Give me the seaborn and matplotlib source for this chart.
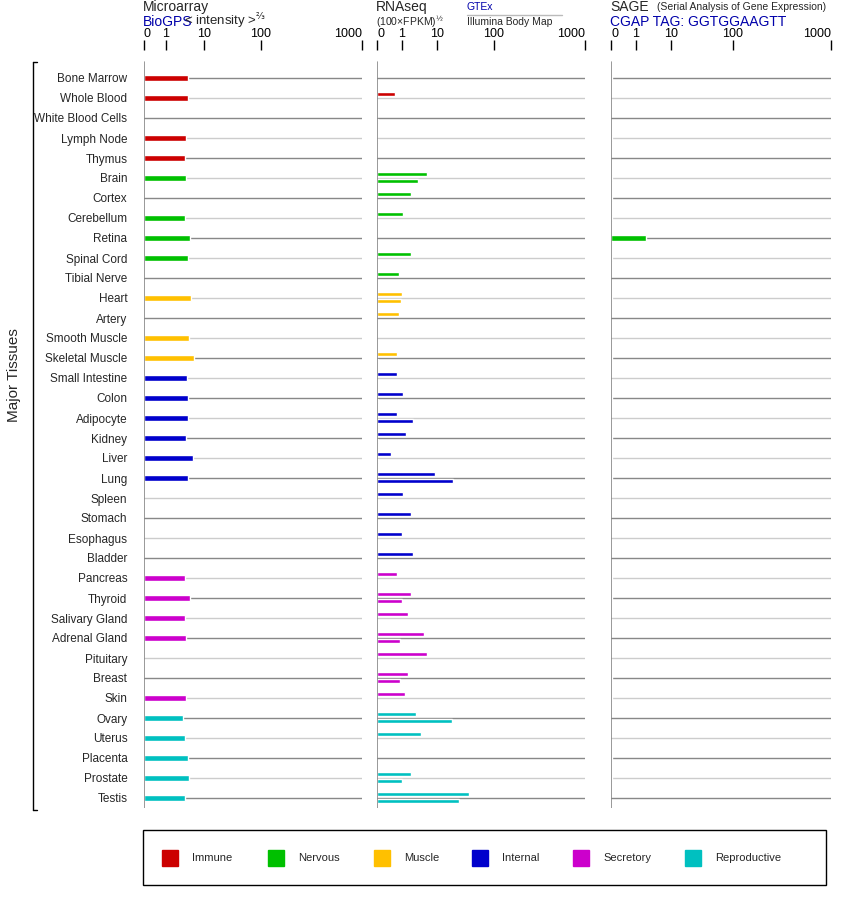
import numpy as np
import matplotlib
matplotlib.use("Agg")
import matplotlib.pyplot as plt
import seaborn as sns

sns.set_theme(style="white", font="Liberation Sans")
nan = np.nan

tissues = ["Bone Marrow", "Whole Blood", "White Blood Cells", "Lymph Node", "Thymus",
           "Brain", "Cortex", "Cerebellum", "Retina", "Spinal Cord", "Tibial Nerve",
           "Heart", "Artery", "Smooth Muscle", "Skeletal Muscle",
           "Small Intestine", "Colon", "Adipocyte", "Kidney", "Liver", "Lung", "Spleen",
           "Stomach", "Esophagus", "Bladder",
           "Pancreas", "Thyroid", "Salivary Gland", "Adrenal Gland", "Pituitary", "Breast", "Skin",
           "Ovary", "Uterus", "Placenta", "Prostate", "Testis"]
groups = ["Immune"] * 5 + ["Nervous"] * 6 + ["Muscle"] * 4 + ["Internal"] * 10 + \
         ["Secretory"] * 7 + ["Reproductive"] * 5
group_names = ["Immune", "Nervous", "Muscle", "Internal", "Secretory", "Reproductive"]
group_colors = ["#CC0000", "#00C000", "#FFC000", "#0000CC", "#CC00CC", "#00C0C0"]

microarray = [6.2, 6.2, nan, 5.7, 5.5,
              5.7, nan, 5.5, 6.7, 6.2, nan,
              6.9, nan, 6.4, 7.6,
              6.0, 6.2, 6.2, 5.7, 7.4, 6.2, nan, nan, nan, nan,
              5.5, 6.7, 5.5, 5.7, nan, nan, 5.7,
              5.0, 5.5, 6.2, 6.4, 5.5]
gtex = [nan, 0.72, nan, nan, nan,
        7.4, 3.3, 1.26, nan, 3.3, 0.88,
        1.0, 0.88, nan, 0.8,
        0.8, 1.26, 0.8, 2.0, 0.56, 9.5, 1.26, 3.3, 1.0, 3.9,
        0.8, 3.3, 2.5, 6.6, 7.4, 2.5, 1.8,
        4.6, 5.9, nan, 3.3, 60]
illumina = [nan, nan, 0.05, 0.05, nan,
            5.0, nan, nan, nan, nan, nan,
            0.96, nan, nan, 0.04,
            nan, 0.04, 3.9, 0.04, 0.04, 35, nan, nan, nan, nan,
            nan, 1.0, nan, 0.92, nan, 0.92, nan,
            33, nan, nan, 1.0, 44]
sage = [0.05, nan, nan, 0.05, nan,
        0.05, 0.05, 0.05, 3.6, 0.05, nan,
        0.05, nan, nan, 0.05,
        nan, 0.05, nan, 0.05, 0.05, 0.05, nan, nan, nan, nan,
        0.05, 0.05, nan, nan, nan, 0.05, 0.05,
        nan, nan, 0.05, 0.05, nan]

tick_vals = [0, 1, 10, 100, 1000]
W, H = 842, 900
fig = plt.figure(figsize=(W / 100, H / 100), dpi=100)
colors = [group_colors[group_names.index(g)] for g in groups]
y = np.arange(len(tissues))


def make_scale(offs):
    def fwd(v):
        return np.interp(v, tick_vals, offs)

    def inv(p):
        return np.interp(p, offs, tick_vals)
    return fwd, inv


def panel(x0, x1, offs):
    ax = fig.add_axes([x0 / W, 1 - 808 / H, (x1 - x0) / W, (808 - 50) / H])
    ax.set_xscale("function", functions=make_scale(offs))
    ax.set_xlim(0, 1000)
    ax.set_ylim(36.5, -1.4)
    for s in ax.spines.values():
        s.set_visible(False)
    for i in y:
        ax.plot([0, 1000], [i, i], color="#888888" if i % 2 == 0 else "#CCCCCC", lw=1, zorder=1)
    ax.plot([0, 0], [-0.8, 36.5], color="#888888", lw=1.2, zorder=3)
    ax.xaxis.tick_top()
    ax.set_xticks(tick_vals)
    ax.set_xticklabels([str(t) for t in tick_vals])
    ax.tick_params(axis="x", top=True, direction="out", length=7, width=1, color="black",
                   pad=0, labelsize=9, labelcolor="black")
    labels = ax.get_xticklabels()
    labels[0].set_ha("left")
    labels[-1].set_ha("right")
    ax.set_yticks([])
    return ax


ax1 = panel(144, 362, [0, 22, 60, 117, 218])
ax1.barh(y, microarray, height=0.27, color=colors, zorder=2)
ax1.set_yticks(y)
ax1.set_yticklabels(tissues, fontsize=8.5)
ax1.tick_params(axis="y", left=False, pad=6)

ax2 = panel(377, 585, [0, 25, 60, 117, 208])
ax2.barh(y - 0.2, gtex, height=0.17, color=colors, zorder=2)
ax2.barh(y + 0.15, illumina, height=0.17, color=colors, zorder=2)

ax3 = panel(611, 831, [0, 25, 60, 122, 220])
ax3.barh(y, sage, height=0.27, color=colors, zorder=2)


def ftext(x, yy, s, **kw):
    fig.text(x / W, 1 - yy / H, s, va="center", **kw)


blue = "#0000AA"
ftext(143, 7, "Microarray", fontsize=10)
ftext(143, 22, "BioGPS", fontsize=10, color=blue)
ftext(184, 21, r"< intensity >$^{⅔}$", fontsize=9.5)
ftext(376, 7, "RNAseq", fontsize=10)
ftext(376, 22, r"(100×FPKM)$^{½}$", fontsize=7.5)
ftext(467, 7, "GTEx", fontsize=7.5, color=blue)
fig.add_artist(plt.Line2D([467 / W, 562 / W], [1 - 14.5 / H] * 2, color="#BBBBBB", lw=1))
ftext(467, 22, "Illumina Body Map", fontsize=7.5)
ftext(610, 7, "SAGE", fontsize=10)
ftext(657, 7, "(Serial Analysis of Gene Expression)", fontsize=7.5)
ftext(610, 22, "CGAP TAG: GGTGGAAGTT", fontsize=10, color=blue)

# left bracket + label
fig.add_artist(plt.Line2D([33 / W] * 2, [1 - 62 / H, 1 - 810 / H], color="black", lw=1))
fig.add_artist(plt.Line2D([33 / W, 37 / W], [1 - 62 / H] * 2, color="black", lw=1))
fig.add_artist(plt.Line2D([33 / W, 37 / W], [1 - 810 / H] * 2, color="black", lw=1))
fig.text(14 / W, 1 - 375 / H, "Major Tissues", rotation=90, va="center", ha="center", fontsize=11)

# legend box
fig.add_artist(plt.Rectangle((143 / W, 1 - 885 / H), 683 / W, 55 / H, fill=False,
                             edgecolor="black", lw=1))
leg_x = [162, 268, 374, 472, 573, 685]
for lx, name, c in zip(leg_x, group_names, group_colors):
    fig.add_artist(plt.Rectangle((lx / W, 1 - 866 / H), 16 / W, 16 / H, color=c))
    ftext(lx + 30, 858, name, fontsize=8)

fig.savefig("out.png", dpi=100)
